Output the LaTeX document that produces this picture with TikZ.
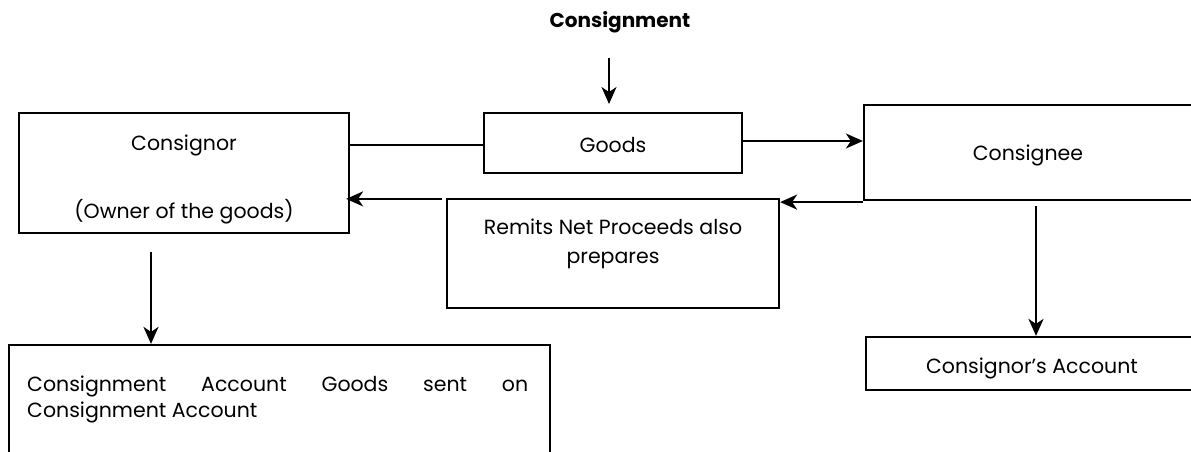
\documentclass[tikz,border=0pt]{standalone}
\usepackage{fontspec}
\setmainfont{Poppins}
\usetikzlibrary{arrows.meta}
\begin{document}
\begin{tikzpicture}[x=1pt,y=-1pt,
  box/.style={draw, line width=2.2pt, inner sep=0pt},
  lbl/.style={font=\fontsize{20.5}{29}\selectfont, inner sep=0pt},
  arr/.style={line width=2.2pt, -{Stealth[length=17pt,width=15pt,inset=5pt]}},
  ln/.style={line width=2.2pt}]
\useasboundingbox (0,0) rectangle (1191,452);
% boxes
\node[box, minimum width=330pt, minimum height=120pt] (consignor) at (184,173) {};
\node[box, minimum width=258pt, minimum height=60pt] (goods) at (613,143) {};
\node[box, minimum width=331pt, minimum height=95pt] (consignee) at (1029.5,152.5) {};
\node[box, minimum width=332pt, minimum height=109pt] (remits) at (613,253.5) {};
\node[box, minimum width=541pt, minimum height=115pt] (cacc) at (279.5,402.5) {};
\node[box, minimum width=329pt, minimum height=53pt] (oracc) at (1030.5,363.5) {};
% texts
\node[lbl, font=\fontsize{20}{24}\selectfont\bfseries] (title) at (620,22) {Consignment};
\node[lbl] (tConsignor) at (184,145) {Consignor};
\node[lbl] (tOwner) at (184,212) {(Owner of the goods)};
\node[lbl] (tGoods) at (613,145) {Goods};
\node[lbl] (tConsignee) at (1028,155) {Consignee};
\node[lbl, align=center] (tRemits) at (613,244) {Remits Net Proceeds also\\prepares};
\node[lbl, font=\fontsize{20.5}{26}\selectfont, anchor=north west, align=left] (tCacc) at (27,376) {\makebox[501pt][s]{Consignment Account Goods sent on}\\Consignment Account};
\node[lbl] (tOracc) at (1032,368) {Consignor’s Account};
% connectors
\coordinate (c1) at (609,58);
\coordinate (c2) at (609,104);
\draw[arr] (c1) -- (c2);
\draw[ln] ([yshift=28pt]consignor.east) -- ([yshift=28pt]consignor.east -| goods.west);
\draw[arr] ([yshift=2pt]goods.east) -- ([yshift=2pt]goods.east -| consignee.west);
\draw[arr] ([yshift=-1pt]consignee.south west) -- ([yshift=-1pt]consignee.south west -| remits.east);
\draw[arr] ([xshift=-4pt,yshift=-1pt]remits.north west) -- ([xshift=-4pt,yshift=-1pt]remits.north west -| consignor.east);
\coordinate (d1) at ([xshift=-33pt,yshift=-18pt]consignor.south);
\draw[arr] (d1) -- (d1 |- cacc.north);
\coordinate (e1) at ([xshift=6.5pt,yshift=-5pt]consignee.south);
\draw[arr] (e1) -- (e1 |- oracc.north);
\end{tikzpicture}
\end{document}
